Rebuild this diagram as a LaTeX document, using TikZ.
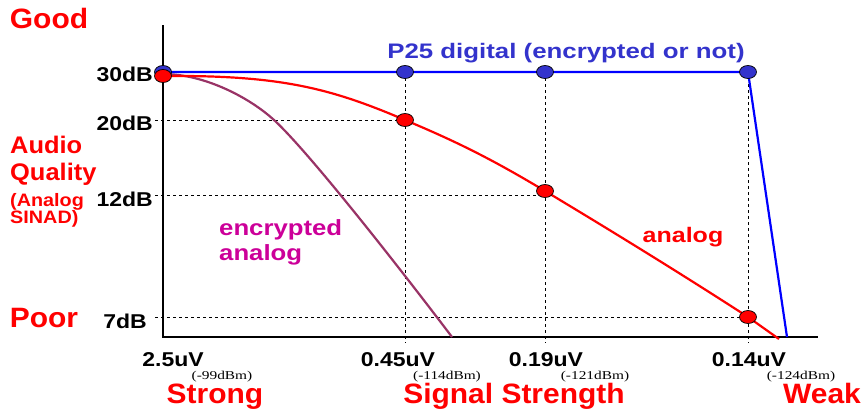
\documentclass[tikz,border=0pt]{standalone}
\usepackage{fontspec}
\usepackage{graphicx}
\setmainfont{Liberation Sans}
\newfontfamily\dbmfont{Liberation Serif}
\usetikzlibrary{shapes.geometric}

\definecolor{qred}{HTML}{FF0000}
\definecolor{p25blue}{HTML}{3333CC}
\definecolor{lineblue}{HTML}{0000FF}
\definecolor{encpurple}{HTML}{993366}
\definecolor{enctext}{HTML}{CC0099}

% horizontally widened text
\newcommand{\wider}[2]{\scalebox{#1}[1]{#2}}

\tikzset{
  bigred/.style={text=qred, inner sep=0, anchor=base, font=\bfseries\fontsize{28}{30}\selectfont},
  ticklbl/.style={inner sep=0, anchor=base, font=\bfseries\fontsize{20}{22}\selectfont},
  dbm/.style={inner sep=0, anchor=base, font=\dbmfont\fontsize{12}{13}\selectfont},
  dotmark/.style={ellipse, draw=black, line width=0.7pt, minimum width=17pt, minimum height=13pt, inner sep=0},
  reddot/.style={dotmark, fill=qred},
  bluedot/.style={dotmark, fill=p25blue},
  guide/.style={line width=0.8pt, dash pattern=on 3pt off 3pt},
  axisline/.style={line width=2.2pt},
  curve/.style={line width=2.2pt},
}

\begin{document}
\begin{tikzpicture}[x=1pt,y=-1pt]
\useasboundingbox (0,0) rectangle (864,410);

% data points
\coordinate (b1) at (163,72);
\coordinate (b2) at (405,72);
\coordinate (b3) at (545,72);
\coordinate (b4) at (748,72);
\coordinate (r1) at (163,76);
\coordinate (r2) at (405,120);
\coordinate (r3) at (545,191);
\coordinate (r4) at (748,317);
\coordinate (bend) at (787,337);
\coordinate (rend) at (779,339);

% guide lines
\coordinate (g20) at (155,120);
\coordinate (g12) at (155,195);
\coordinate (g12e) at (545,195);
\coordinate (g7) at (155,317);
\coordinate (v45) at (405,343);
\coordinate (v19) at (545,343);
\coordinate (v14) at (748,343);
\draw[guide] (g20) -- (r2);
\draw[guide] (g12) -- (g12e);
\draw[guide] (g7) -- (r4);
\draw[guide] (b2) -- (v45);
\draw[guide] (b3) -- (v19);
\draw[guide] (b4) -- (v14);

% axes
\coordinate (ytop) at (163,25);
\coordinate (origin) at (163,337);
\coordinate (xend) at (818,337);
\draw[axisline] (ytop) -- (origin) -- (xend);

% encrypted analog
\coordinate (e0) at (163,74);
\coordinate (e1) at (274,120);
\coordinate (e2) at (452,337);
\draw[curve, encpurple] (e0) .. controls (205,74) and (250,98) .. (e1)
  .. controls (310,153) and (405,275) .. (e2);

% analog
\draw[curve, qred] (r1) .. controls (280,75) and (330,88) .. (r2)
  .. controls (455,141) and (490,158) .. (r3)
  .. controls (610,230) and (680,273) .. (r4) -- (rend);

% P25 digital
\draw[curve, lineblue] (b1) -- (b4) -- (bend);

% markers
\node[bluedot] (B1) at (b1) {};
\node[bluedot] (B2) at (b2) {};
\node[bluedot] (B3) at (b3) {};
\node[bluedot] (B4) at (b4) {};
\node[reddot] (R1) at (r1) {};
\node[reddot] (R2) at (r2) {};
\node[reddot] (R3) at (r3) {};
\node[reddot] (R4) at (r4) {};

% y-axis labels
\node[ticklbl, anchor=base east] (l30) at (153,81) {\wider{1.15}{30dB}};
\node[ticklbl, anchor=base east] (l20) at (153,130) {\wider{1.15}{20dB}};
\node[ticklbl, anchor=base east] (l12) at (153,206) {\wider{1.15}{12dB}};
\node[ticklbl, anchor=base east] (l7) at (147,328) {\wider{1.15}{7dB}};

% x-axis labels
\node[ticklbl] (x25) at (173,366) {\wider{1.15}{2.5uV}};
\node[ticklbl] (x45) at (398,366) {\wider{1.15}{0.45uV}};
\node[ticklbl] (x19) at (546,366) {\wider{1.15}{0.19uV}};
\node[ticklbl] (x14) at (749,366) {\wider{1.15}{0.14uV}};
\node[dbm] (d99) at (222,379) {\wider{1.28}{(-99dBm)}};
\node[dbm] (d114) at (447,379) {\wider{1.28}{(-114dBm)}};
\node[dbm] (d121) at (595,379) {\wider{1.28}{(-121dBm)}};
\node[dbm] (d124) at (801,379) {\wider{1.28}{(-124dBm)}};

% quality and strength captions
\node[bigred] (good) at (49,28) {\wider{1.07}{Good}};
\node[bigred] (poor) at (44,327) {\wider{1.07}{Poor}};
\node[bigred] (strong) at (215,403) {\wider{1.07}{Strong}};
\node[bigred] (signal) at (514,403) {\wider{1.07}{Signal Strength}};
\node[bigred] (weak) at (822,403) {\wider{1.07}{Weak}};

% multi-line labels: base anchor sits on the last line
\node[text=qred, inner sep=0, anchor=base west, align=left,
      font=\bfseries\fontsize{24}{27}\selectfont] (audio) at (10,180)
  {\wider{1.06}{Audio}\\\wider{1.06}{Quality}};
\node[text=qred, inner sep=0, anchor=base west, align=left,
      font=\bfseries\fontsize{18}{17}\selectfont] (sinad) at (10,223)
  {\wider{1.1}{(Analog}\\\wider{1.1}{SINAD)}};

% curve labels
\node[text=p25blue, inner sep=0, anchor=base, font=\bfseries\fontsize{21}{23}\selectfont] (p25) at (566,58)
  {\wider{1.23}{P25 digital (encrypted or not)}};
\node[text=qred, inner sep=0, anchor=base, font=\bfseries\fontsize{21}{23}\selectfont] (analog) at (683,242)
  {\wider{1.19}{analog}};
\node[text=enctext, inner sep=0, anchor=base west, align=left,
      font=\bfseries\fontsize{22}{25}\selectfont] (enc) at (219,260)
  {\wider{1.17}{encrypted}\\\wider{1.17}{analog}};
\end{tikzpicture}
\end{document}
